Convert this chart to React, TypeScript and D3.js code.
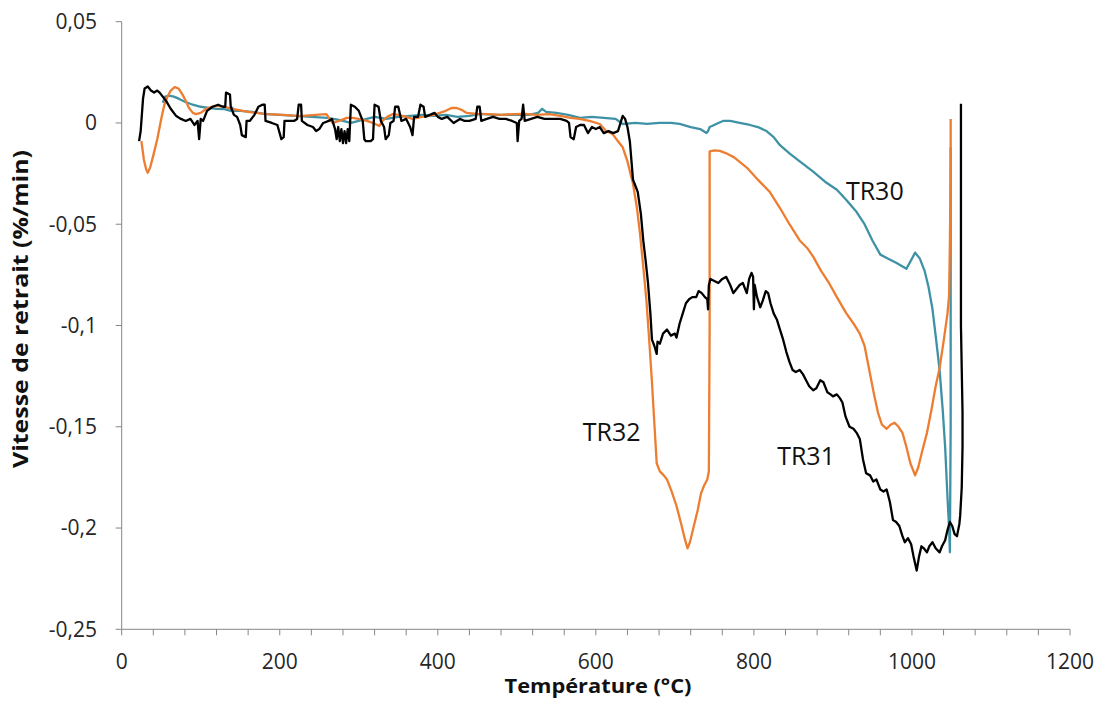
import React from "react";
import * as d3 from "d3";

const xTicks = [0, 200, 400, 600, 800, 1000, 1200];
const xMinorStep = 40;
const yTicks = [0.05, 0, -0.05, -0.1, -0.15, -0.2, -0.25];

const tr30: [number, number][] = [
  [52,0.010],[55,0.013],[60,0.0135],[66,0.013],[72,0.012],[80,0.0105],[90,0.009],[100,0.008],[110,0.0075],[120,0.007],[130,0.0068],[138,0.006],[140,0.0075],[142,0.006],[150,0.006],[165,0.0055],[180,0.0045],[200,0.004],[220,0.0035],[240,0.003],[260,0.0025],[275,0.0015],[290,0.0],[300,0.001],[310,0.002],[320,0.003],[335,0.002],[350,0.003],[365,0.0035],[380,0.004],[395,0.0035],[410,0.004],[425,0.003],[440,0.0035],[455,0.0045],[470,0.004],[485,0.004],[500,0.004],[515,0.004],[527,0.005],[532,0.007],[537,0.0055],[550,0.005],[565,0.004],[580,0.0025],[595,0.003],[610,0.0025],[625,0.002],[634,-0.0005],[650,0.0],[665,-0.0005],[680,0.0],[695,0.0],[706,-0.0005],[720,-0.002],[732,-0.003],[740,-0.005],[742,-0.004],[744,-0.002],[747,-0.0015],[755,0.0],[761,0.001],[770,0.001],[782,0.0],[795,-0.001],[805,-0.002],[816,-0.004],[825,-0.007],[833,-0.011],[845,-0.015],[858,-0.019],[875,-0.024],[890,-0.029],[905,-0.033],[917,-0.038],[930,-0.044],[940,-0.050],[950,-0.058],[960,-0.065],[970,-0.067],[980,-0.069],[993,-0.072],[1000,-0.067],[1004,-0.064],[1010,-0.067],[1016,-0.073],[1021,-0.081],[1026,-0.092],[1030,-0.105],[1035,-0.122],[1039,-0.142],[1042,-0.160],[1045,-0.185],[1047,-0.200],[1048,-0.212],[1049,-0.150],[1049,-0.012]
];

const tr32: [number, number][] = [
  [25,-0.009],[28,-0.018],[31,-0.023],[33,-0.0246],[36,-0.022],[40,-0.016],[45,-0.008],[50,0.002],[54,0.009],[58,0.013],[62,0.016],[67,0.0177],[72,0.017],[77,0.014],[81,0.011],[85,0.0075],[90,0.005],[94,0.0044],[100,0.005],[107,0.007],[114,0.008],[120,0.0084],[130,0.008],[140,0.007],[160,0.0055],[183,0.0044],[205,0.004],[225,0.0034],[245,0.004],[259,0.0044],[263,0.002],[267,0.0],[275,0.001],[285,0.0025],[292,0.0025],[300,0.002],[310,0.001],[318,0.0],[326,-0.0015],[330,0.001],[336,0.003],[343,0.0044],[350,0.004],[360,0.003],[368,0.002],[380,0.003],[395,0.004],[410,0.006],[418,0.0075],[424,0.0074],[430,0.0065],[436,0.005],[450,0.0045],[466,0.0044],[480,0.004],[495,0.0044],[510,0.0045],[525,0.004],[541,0.0044],[555,0.0035],[568,0.0025],[579,0.002],[592,0.001],[605,-0.0005],[613,-0.004],[621,-0.0054],[628,-0.009],[634,-0.012],[640,-0.019],[647,-0.030],[652,-0.042],[656,-0.055],[660,-0.071],[664,-0.0876],[668,-0.110],[671,-0.128],[674,-0.148],[677,-0.168],[681,-0.172],[686,-0.174],[690,-0.176],[696,-0.182],[702,-0.189],[708,-0.198],[713,-0.206],[716,-0.210],[719,-0.207],[724,-0.199],[729,-0.191],[733,-0.183],[737,-0.179],[741,-0.176],[743,-0.172],[744,-0.100],[744,-0.014],[750,-0.0135],[757,-0.0138],[765,-0.015],[775,-0.017],[791,-0.022],[805,-0.028],[820,-0.034],[833,-0.042],[845,-0.050],[858,-0.058],[868,-0.062],[875,-0.066],[885,-0.073],[895,-0.079],[905,-0.086],[917,-0.094],[926,-0.099],[934,-0.104],[940,-0.110],[946,-0.122],[952,-0.134],[957,-0.143],[962,-0.149],[968,-0.151],[973,-0.149],[978,-0.148],[983,-0.150],[988,-0.153],[993,-0.160],[998,-0.168],[1004,-0.174],[1008,-0.170],[1013,-0.162],[1019,-0.153],[1025,-0.141],[1030,-0.130],[1035,-0.121],[1040,-0.108],[1045,-0.094],[1047,-0.085],[1048,-0.060],[1049,-0.020],[1049,0.002]
];

const tr31: [number, number][] = [
  [22,-0.009],[24,-0.004],[27,0.012],[29,0.017],[33,0.018],[37,0.016],[41,0.015],[45,0.016],[48,0.015],[52,0.013],[56,0.011],[62,0.007],[69,0.0034],[75,0.002],[81,0.001],[87,0.002],[92,-0.001],[96,0.001],[98,-0.008],[100,0.002],[103,0.001],[108,0.006],[115,0.008],[122,0.009],[128,0.008],[131,0.008],[132,0.015],[137,0.014],[138,0.008],[142,0.004],[146,0.003],[150,-0.001],[152,-0.006],[157,-0.007],[158,0.001],[162,0.001],[168,0.004],[173,0.008],[178,0.009],[181,0.009],[182,0.001],[190,0.0],[197,-0.001],[202,-0.008],[205,-0.007],[206,0.001],[213,0.001],[218,0.001],[222,0.002],[224,0.009],[227,0.009],[228,0.001],[235,-0.001],[242,-0.002],[246,-0.004],[250,-0.003],[255,0.0],[262,0.001],[266,0.002],[270,-0.003],[272,-0.008],[274,-0.002],[276,-0.009],[278,-0.003],[280,-0.010],[282,-0.004],[284,-0.010],[286,-0.003],[288,-0.009],[290,0.009],[295,0.008],[300,0.006],[305,0.001],[307,-0.008],[309,-0.009],[315,-0.009],[318,-0.008],[320,0.009],[325,0.008],[328,0.001],[332,-0.002],[334,-0.008],[338,-0.006],[340,0.0],[344,0.001],[346,0.008],[350,0.008],[354,0.001],[360,0.002],[365,-0.002],[368,-0.006],[370,0.003],[375,0.003],[378,0.009],[382,0.008],[384,0.003],[390,0.004],[396,0.005],[400,0.003],[405,0.002],[412,0.003],[420,0.0],[428,0.002],[434,0.001],[440,0.001],[448,0.002],[450,0.008],[453,0.008],[455,0.001],[462,0.002],[470,0.003],[478,0.002],[486,0.002],[494,0.001],[500,0.0],[501,-0.009],[503,0.001],[506,0.002],[508,0.009],[510,0.001],[518,0.002],[526,0.003],[535,0.002],[545,0.002],[555,0.002],[563,0.001],[566,0.0],[568,-0.007],[572,-0.008],[575,-0.002],[580,-0.001],[585,-0.001],[590,-0.005],[595,-0.002],[600,-0.003],[605,-0.002],[610,-0.005],[616,-0.004],[622,-0.005],[628,-0.004],[632,0.001],[634,0.0035],[637,0.002],[640,-0.002],[643,-0.009],[647,-0.028],[650,-0.031],[653,-0.034],[657,-0.045],[660,-0.058],[663,-0.068],[666,-0.079],[669,-0.094],[671,-0.107],[674,-0.110],[677,-0.114],[678,-0.108],[681,-0.109],[685,-0.104],[690,-0.102],[695,-0.105],[700,-0.104],[702,-0.106],[706,-0.099],[710,-0.094],[714,-0.089],[718,-0.087],[722,-0.086],[727,-0.086],[730,-0.083],[734,-0.084],[738,-0.086],[741,-0.087],[742,-0.092],[743,-0.080],[745,-0.077],[750,-0.078],[755,-0.079],[760,-0.077],[765,-0.076],[770,-0.080],[774,-0.084],[778,-0.082],[782,-0.080],[786,-0.079],[789,-0.082],[791,-0.084],[794,-0.077],[797,-0.074],[799,-0.076],[800,-0.092],[801,-0.080],[804,-0.086],[808,-0.091],[811,-0.088],[815,-0.083],[818,-0.084],[821,-0.089],[825,-0.094],[829,-0.097],[833,-0.102],[837,-0.107],[841,-0.113],[845,-0.118],[849,-0.122],[853,-0.123],[858,-0.122],[862,-0.124],[866,-0.127],[870,-0.130],[875,-0.132],[879,-0.131],[884,-0.127],[888,-0.128],[893,-0.133],[897,-0.134],[900,-0.135],[905,-0.134],[909,-0.136],[912,-0.138],[916,-0.145],[921,-0.150],[926,-0.151],[930,-0.153],[934,-0.156],[938,-0.166],[942,-0.173],[947,-0.174],[951,-0.177],[955,-0.176],[960,-0.181],[964,-0.182],[968,-0.181],[972,-0.187],[976,-0.196],[980,-0.197],[984,-0.199],[988,-0.204],[991,-0.207],[995,-0.205],[999,-0.208],[1002,-0.214],[1006,-0.221],[1009,-0.214],[1012,-0.209],[1015,-0.210],[1019,-0.212],[1022,-0.209],[1026,-0.207],[1030,-0.210],[1035,-0.212],[1038,-0.209],[1042,-0.206],[1045,-0.201],[1048,-0.197],[1051,-0.199],[1054,-0.203],[1057,-0.204],[1060,-0.198],[1061,-0.194],[1063,-0.180],[1064,-0.160],[1064,-0.143],[1062,-0.100],[1062,0.0095]
];

const seriesNames = ["TR30", "TR32", "TR31"];
const seriesColors = ["#3f92a6", "#ed7d31", "#000000"];
const seriesData = [tr30, tr32, tr31];
// label anchor (temperature, value) at text baseline centre
const labelPos: [number, number][] = [[953, -0.0382], [620, -0.157], [866, -0.1688]];

const W = 1104, H = 706;
const left = 121.7, right = 1070, top = 21.7, bottom = 629.3;
const FONT = "'Open Sans', sans-serif";

export default function App() {
  const x = d3.scaleLinear().domain([0, 1200]).range([left, right]);
  const y = d3.scaleLinear().domain([-0.25, 0.05]).range([bottom, top]);
  const line = d3.line<[number, number]>().x(d => x(d[0])).y(d => y(d[1]));
  const minor = d3.range(0, 1200 + 1, xMinorStep);
  const fmt = (v: number) => (Math.abs(v) < 1e-9 ? "0" : String(+v.toFixed(2)).replace(".", ","));
  const axisColor = "#868686";
  return (
    <svg width={W} height={H} style={{ position: "absolute", left: 0, top: 0, background: "#fff" }}>
      <rect x={0} y={0} width={W} height={H} fill="#fff" />
      {/* y axis */}
      <line x1={left} x2={left} y1={top} y2={bottom} stroke={axisColor} strokeWidth={1} />
      {yTicks.map(t => (
        <g key={t}>
          <line x1={left - 6} x2={left} y1={y(t)} y2={y(t)} stroke={axisColor} />
          <text x={97} y={y(t)} dy="0.35em" textAnchor="end" fontFamily={FONT} fontSize={21} fill="#262626">{fmt(t)}</text>
        </g>
      ))}
      {/* x axis */}
      <line x1={left} x2={right} y1={bottom} y2={bottom} stroke={axisColor} strokeWidth={1} />
      {minor.map(t => (
        <line key={t} x1={x(t)} x2={x(t)} y1={bottom} y2={bottom + 6} stroke={axisColor} />
      ))}
      {xTicks.map(t => (
        <text key={t} x={x(t)} y={669} textAnchor="middle" fontFamily={FONT} fontSize={21} fill="#262626">{t}</text>
      ))}
      <text x={598} y={693} textAnchor="middle" fontFamily={FONT} fontWeight="bold" fontSize={20} textLength={187} lengthAdjust="spacingAndGlyphs" fill="#111">Température (°C)</text>
      <text transform={`translate(28,309) rotate(-90)`} textAnchor="middle" fontFamily={FONT} fontWeight="bold" fontSize={21} textLength={318} lengthAdjust="spacingAndGlyphs" fill="#111">Vitesse de retrait (%/min)</text>
      {/* series */}
      {seriesData.map((d, i) => (
        <path key={seriesNames[i]} d={line(d) || ""} fill="none" stroke={seriesColors[i]} strokeWidth={2.3} strokeLinejoin="round" />
      ))}
      {seriesNames.map((n, i) => (
        <text key={n} x={x(labelPos[i][0])} y={y(labelPos[i][1])} textAnchor="middle" fontFamily={FONT} fontSize={25} fill="#111">{n}</text>
      ))}
    </svg>
  );
}
